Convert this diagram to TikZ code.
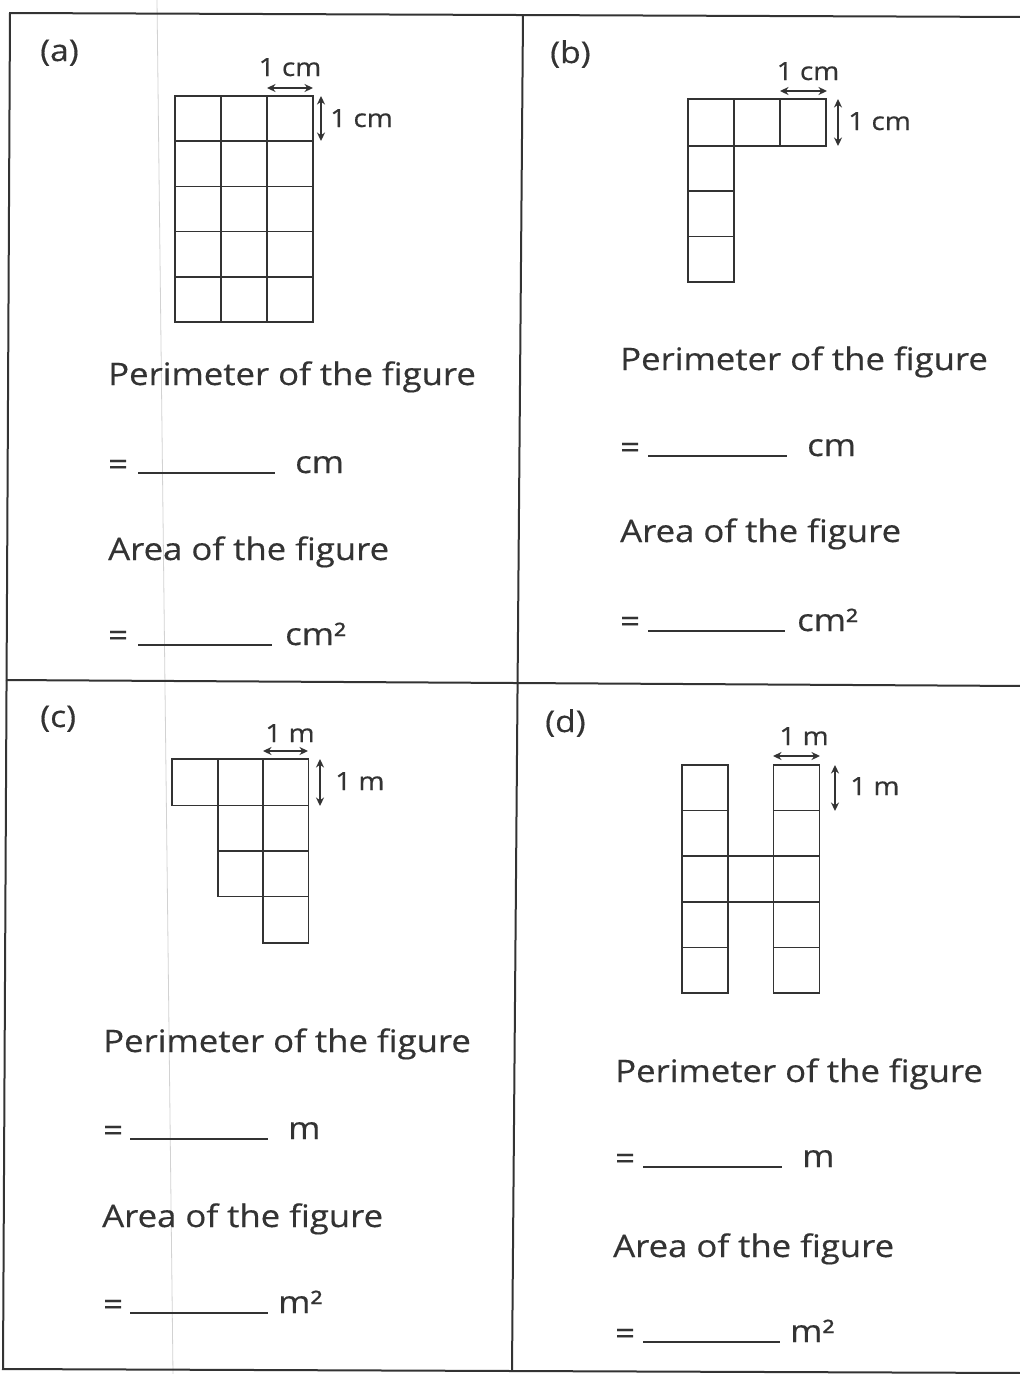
\documentclass[tikz,border=0pt]{standalone}
\usepackage{fontspec}
\setmainfont{Open Sans}[FakeStretch=1.12, FakeBold=0.4]
\usetikzlibrary{arrows.meta}
\definecolor{ink}{HTML}{333333}
\begin{document}
\begin{tikzpicture}[x=1pt,y=-1pt,
 frame/.style={draw=ink, line width=2pt},
 sq/.style={draw=ink, line width=1.7pt},
 dimarrow/.style={draw=ink, line width=1.3pt, {Stealth[length=8.5pt,width=8pt]}-{Stealth[length=8.5pt,width=8pt]}},
 txt/.style={anchor=base west, inner sep=0pt, text=ink, font=\fontsize{31}{36}\selectfont},
 lbl/.style={inner sep=0pt, text=ink, font=\fontsize{25}{29}\selectfont},
 part/.style={anchor=base west, inner sep=0pt, text=ink, font=\fontsize{30}{34}\selectfont},
 blank/.style={draw=ink, line width=1.3pt}]
\useasboundingbox[fill=white] (0,0) rectangle (1020,1374);
% faint scan line
\draw[gray!35, line width=0.8pt] (157,0) -- (173,1374);
% frame
\coordinate (tl) at (10,13); \coordinate (tr) at (1024,17);
\coordinate (bl) at (3,1369); \coordinate (br) at (1024,1373);
\coordinate (vt) at (523,15); \coordinate (vb) at (512,1371);
\coordinate (hl) at (6,680); \coordinate (hr) at (1024,686);
\draw[frame] (tr) -- (tl) -- (bl) -- (br);
\draw[frame] (vt) -- (vb);
\draw[frame] (hl) -- (hr);

% ---------- (a) ----------
\node[part] (la) at (40,61) {(a)};
\foreach \x in {175,221,267}{
  \foreach \y in {96,141.2,186.4,231.6,276.8}{
    \draw[sq] (\x,\y) rectangle ++(46,45.2);
  }
}
\coordinate (a1) at (267,88); \coordinate (a2) at (313,88);
\draw[dimarrow] (a1) -- (a2);
\node[lbl, anchor=base] (al1) at (290,76) {1 cm};
\coordinate (a3) at (321,96); \coordinate (a4) at (321,141);
\draw[dimarrow] (a3) -- (a4);
\node[lbl, anchor=base west] (al2) at (330,127) {1 cm};
\node[txt] (pa) at (108,385) {Perimeter of the figure};
\node[txt] (ea1) at (108,475) {=};
\draw[blank] (138,473) -- (275,473);
\node[txt] (ua1) at (295,473) {cm};
\node[txt] (aa) at (108,560) {Area of the figure};
\node[txt] (ea2) at (108,646) {=};
\draw[blank] (138,645) -- (272,645);
\node[txt] (ua2) at (285,645) {cm²};

% ---------- (b) ----------
\node[part] (lb) at (550,63) {(b)};
\foreach \x in {688,734,780}{ \draw[sq] (\x,99) rectangle ++(46,47); }
\foreach \y in {146,191.3,236.6}{ \draw[sq] (688,\y) rectangle ++(46,45.3); }
\coordinate (b1) at (780,91); \coordinate (b2) at (827,91);
\draw[dimarrow] (b1) -- (b2);
\node[lbl, anchor=base] (bl1) at (808,80) {1 cm};
\coordinate (b3) at (838,99); \coordinate (b4) at (838,146);
\draw[dimarrow] (b3) -- (b4);
\node[lbl, anchor=base west] (bl2) at (848,130) {1 cm};
\node[txt] (pb) at (620,370) {Perimeter of the figure};
\node[txt] (eb1) at (620,458) {=};
\draw[blank] (648,456) -- (787,456);
\node[txt] (ub1) at (807,456) {cm};
\node[txt] (ab) at (620,542) {Area of the figure};
\node[txt] (eb2) at (620,632) {=};
\draw[blank] (648,631) -- (785,631);
\node[txt] (ub2) at (797,631) {cm²};

% ---------- (c) ----------
\node[part] (lc) at (40,727) {(c)};
\foreach \x in {172,218,263}{ \draw[sq] (\x,759) rectangle ++(45.5,46.5); }
\foreach \x in {218,263}{
  \foreach \y in {805.5,851}{ \draw[sq] (\x,\y) rectangle ++(45.5,45.5); }
}
\draw[sq] (263,896.5) rectangle ++(45.5,46.5);
\coordinate (c1) at (263,751); \coordinate (c2) at (308,751);
\draw[dimarrow] (c1) -- (c2);
\node[lbl, anchor=base] (cl1) at (290,742) {1 m};
\coordinate (c3) at (320,759); \coordinate (c4) at (320,806);
\draw[dimarrow] (c3) -- (c4);
\node[lbl, anchor=base west] (cl2) at (335,790) {1 m};
\node[txt] (pc) at (103,1052) {Perimeter of the figure};
\node[txt] (ec1) at (103,1141) {=};
\draw[blank] (130,1139) -- (268,1139);
\node[txt] (uc1) at (288,1139) {m};
\node[txt] (ac) at (102,1227) {Area of the figure};
\node[txt] (ec2) at (103,1315) {=};
\draw[blank] (130,1313) -- (268,1313);
\node[txt] (uc2) at (278,1313) {m²};

% ---------- (d) ----------
\node[part] (ld) at (545,732) {(d)};
\foreach \x in {682,773.5}{
  \foreach \y in {765,810.6,856.2,901.8,947.4}{ \draw[sq] (\x,\y) rectangle ++(46,45.6); }
}
\draw[sq] (728,856.2) rectangle ++(45.5,45.6);
\coordinate (d1) at (773,756); \coordinate (d2) at (820,756);
\draw[dimarrow] (d1) -- (d2);
\node[lbl, anchor=base] (dl1) at (804,745) {1 m};
\coordinate (d3) at (835,765); \coordinate (d4) at (835,811);
\draw[dimarrow] (d3) -- (d4);
\node[lbl, anchor=base west] (dl2) at (850,795) {1 m};
\node[txt] (pd) at (615,1082) {Perimeter of the figure};
\node[txt] (ed1) at (615,1169) {=};
\draw[blank] (643,1167) -- (782,1167);
\node[txt] (ud1) at (802,1167) {m};
\node[txt] (ad) at (613,1257) {Area of the figure};
\node[txt] (ed2) at (615,1344) {=};
\draw[blank] (643,1342) -- (780,1342);
\node[txt] (ud2) at (790,1342) {m²};
\end{tikzpicture}
\end{document}
